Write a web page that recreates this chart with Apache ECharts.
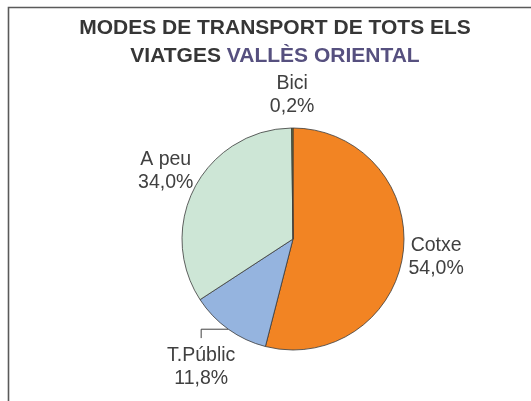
<!DOCTYPE html>
<html>
<head>
<meta charset="utf-8">
<script src="https://cdn.jsdelivr.net/npm/echarts@6/dist/echarts.min.js"></script>
<style>
  html, body { margin: 0; padding: 0; background: #fff; }
  #main { width: 531px; height: 401px; }
</style>
</head>
<body>
<div id="main"></div>
<script>
// data
var modes = ['Cotxe', 'T.Públic', 'A peu', 'Bici'];
var shares = [54.0, 11.8, 34.0, 0.2];
var colors = ['#F28423', '#95B4DF', '#CDE6D6', '#6A7B3A'];

var cx = 293, cy = 239, r = 111;
var total = shares.reduce(function (a, b) { return a + b; }, 0);

function midAngle(i) {
  var cum = 0;
  for (var k = 0; k < i; k++) cum += shares[k];
  return (cum + shares[i] / 2) / total * 2 * Math.PI;
}

var myChart = echarts.init(document.getElementById('main'), null, { renderer: 'canvas' });

var option = {
  animation: false,
  title: {
    text: 'MODES DE TRANSPORT DE TOTS ELS\nVIATGES {v|VALLÈS ORIENTAL}',
    left: 275,
    top: 14,
    padding: 0,
    textAlign: 'center',
    textStyle: {
      fontFamily: 'Liberation Sans, Arial, sans-serif',
      fontSize: 21,
      fontWeight: 'bold',
      color: '#363636',
      lineHeight: 28,
      rich: {
        v: {
          fontFamily: 'Liberation Sans, Arial, sans-serif',
          fontSize: 21,
          fontWeight: 'bold',
          color: '#56507F',
          lineHeight: 28
        }
      }
    }
  },
  graphic: [{
    type: 'rect',
    shape: { x: 8.5, y: 7.5, width: 600, height: 500 },
    style: { fill: 'none', stroke: '#5a5a5a', lineWidth: 1.6 },
    silent: true
  }],
  series: [{
    type: 'pie',
    center: [cx, cy],
    radius: r,
    startAngle: 90,
    clockwise: true,
    avoidLabelOverlap: false,
    itemStyle: { borderColor: '#3a3a3a', borderWidth: 0.8 },
    label: {
      show: true,
      position: 'outside',
      fontFamily: 'Liberation Sans, Arial, sans-serif',
      fontSize: 19.5,
      lineHeight: 23,
      color: '#404040',
      formatter: function (p) {
        return p.name + '\n' + p.value.toFixed(1).replace('.', ',') + '%';
      }
    },
    labelLine: { show: false, lineStyle: { color: '#404040', width: 1 } },
    labelLayout: function (p) {
      var a = midAngle(p.dataIndex);
      var d = p.dataIndex === 1 ? 1.42 * r : 1.3 * r;
      var lx = cx + d * Math.sin(a);
      var ly = cy - d * Math.cos(a);
      var res = { x: lx, y: ly, align: 'center', verticalAlign: 'middle' };
      if (p.dataIndex === 1) {
        var ex = cx + r * Math.sin(a), ey = cy - r * Math.cos(a);
        res.labelLinePoints = [[ex, ey], [lx, ey], [lx, ly - 29]];
      }
      return res;
    },
    data: modes.map(function (m, i) {
      var item = { name: m, value: shares[i], itemStyle: { color: colors[i] } };
      if (i === 1) item.labelLine = { show: true };
      return item;
    })
  }]
};

myChart.setOption(option);
</script>
</body>
</html>
